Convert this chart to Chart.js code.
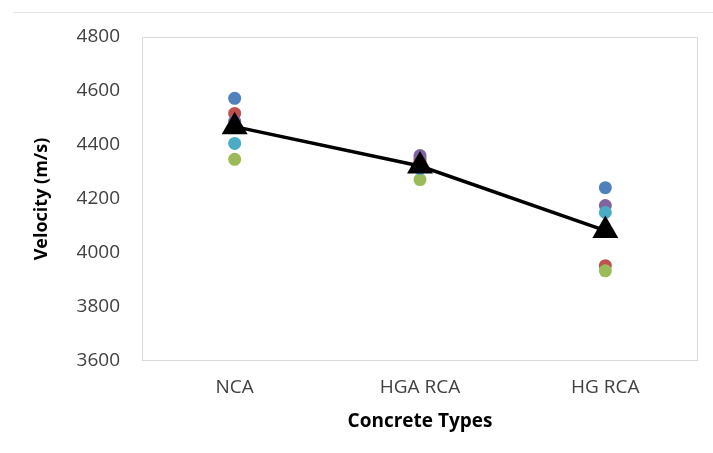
<!DOCTYPE html>
<html>
<head>
<meta charset="utf-8">
<script src="https://cdn.jsdelivr.net/npm/chart.js@4.4.1/dist/chart.umd.min.js"></script>
<style>
  html, body { margin: 0; padding: 0; background: #fff; }
  #wrap { position: relative; width: 713px; height: 453px; }
  #topline { position: absolute; left: 13px; right: 0; top: 12px; border-top: 1px solid #e3e3e3; }
  canvas { position: absolute; left: 0; top: 0; }
</style>
</head>
<body>
<div id="wrap">
  <div id="topline"></div>
  <canvas id="chart" width="713" height="453"></canvas>
</div>
<script>
// categories and readings (m/s)
const concreteTypes = ["NCA", "HGA RCA", "HG RCA"];
const sample1 = [4573, 4352, 4242];
const sample2 = [4517, 4340, 3953];
const sample3 = [4347, 4272, 3934];
const sample4 = [4488, 4361, 4176];
const sample5 = [4406, 4313, 4150];
const averageVelocity = [4468, 4322, 4083];
const velocityTicks = [3600, 3800, 4000, 4200, 4400, 4600, 4800];

const FONT = "'Open Sans', 'Liberation Sans', sans-serif";

function dotSet(label, data, color, order) {
  return {
    type: "line",
    label: label,
    data: data,
    showLine: false,
    pointStyle: "circle",
    pointRadius: 6.5,
    pointHoverRadius: 6.5,
    pointBackgroundColor: color,
    pointBorderColor: color,
    pointBorderWidth: 0,
    order: order,
  };
}

// light grey frame round the plot area
const plotFrame = {
  id: "plotFrame",
  beforeDatasetsDraw(chart) {
    const a = chart.chartArea;
    const ctx = chart.ctx;
    ctx.save();
    ctx.strokeStyle = "#d9d9d9";
    ctx.lineWidth = 1;
    ctx.strokeRect(a.left + 0.5, a.top + 0.5, a.right - a.left - 1, a.bottom - a.top - 1);
    ctx.restore();
  },
};

const ctx = document.getElementById("chart").getContext("2d");
new Chart(ctx, {
  type: "line",
  data: {
    labels: concreteTypes,
    datasets: [
      {
        label: "Average",
        data: averageVelocity,
        borderColor: "#000",
        borderWidth: 3.5,
        pointStyle: "triangle",
        pointRadius: 15,
        pointHoverRadius: 15,
        pointBackgroundColor: "#000",
        pointBorderColor: "#000",
        pointBorderWidth: 0,
        tension: 0,
        order: 0,
      },
      dotSet("Sample 5", sample5, "#4BACC6", 1),
      dotSet("Sample 4", sample4, "#8064A2", 2),
      dotSet("Sample 3", sample3, "#9BBB59", 3),
      dotSet("Sample 2", sample2, "#C0504D", 4),
      dotSet("Sample 1", sample1, "#4F81BD", 5),
    ],
  },
  options: {
    responsive: false,
    animation: false,
    layout: { padding: { left: 0, right: 9, top: 37, bottom: 0 } },
    plugins: {
      legend: { display: false },
      tooltip: { enabled: false },
    },
    scales: {
      x: {
        offset: true,
        grid: { display: false, drawTicks: false },
        border: { display: false },
        ticks: { color: "#404040", font: { family: FONT, size: 19 }, padding: 15 },
        title: {
          display: true,
          text: "Concrete Types",
          color: "#000",
          font: { family: FONT, size: 19, weight: "bold" },
          padding: { top: 0, bottom: 20 },
        },
        afterFit(scale) { scale.height = 92; },
      },
      y: {
        min: 3600,
        max: 4800,
        afterBuildTicks(scale) {
          scale.ticks = velocityTicks.map((v) => ({ value: v }));
        },
        grid: { display: false, drawTicks: false },
        border: { display: false },
        ticks: {
          color: "#404040",
          font: { family: FONT, size: 19 },
          padding: 22,
          callback: (v) => String(v),
        },
        title: {
          display: true,
          text: "Velocity (m/s)",
          color: "#000",
          font: { family: FONT, size: 18, weight: "bold" },
          padding: { top: 31, bottom: 0 },
        },
        afterFit(scale) { scale.width = 142; },
      },
    },
  },
  plugins: [plotFrame],
});
</script>
</body>
</html>
